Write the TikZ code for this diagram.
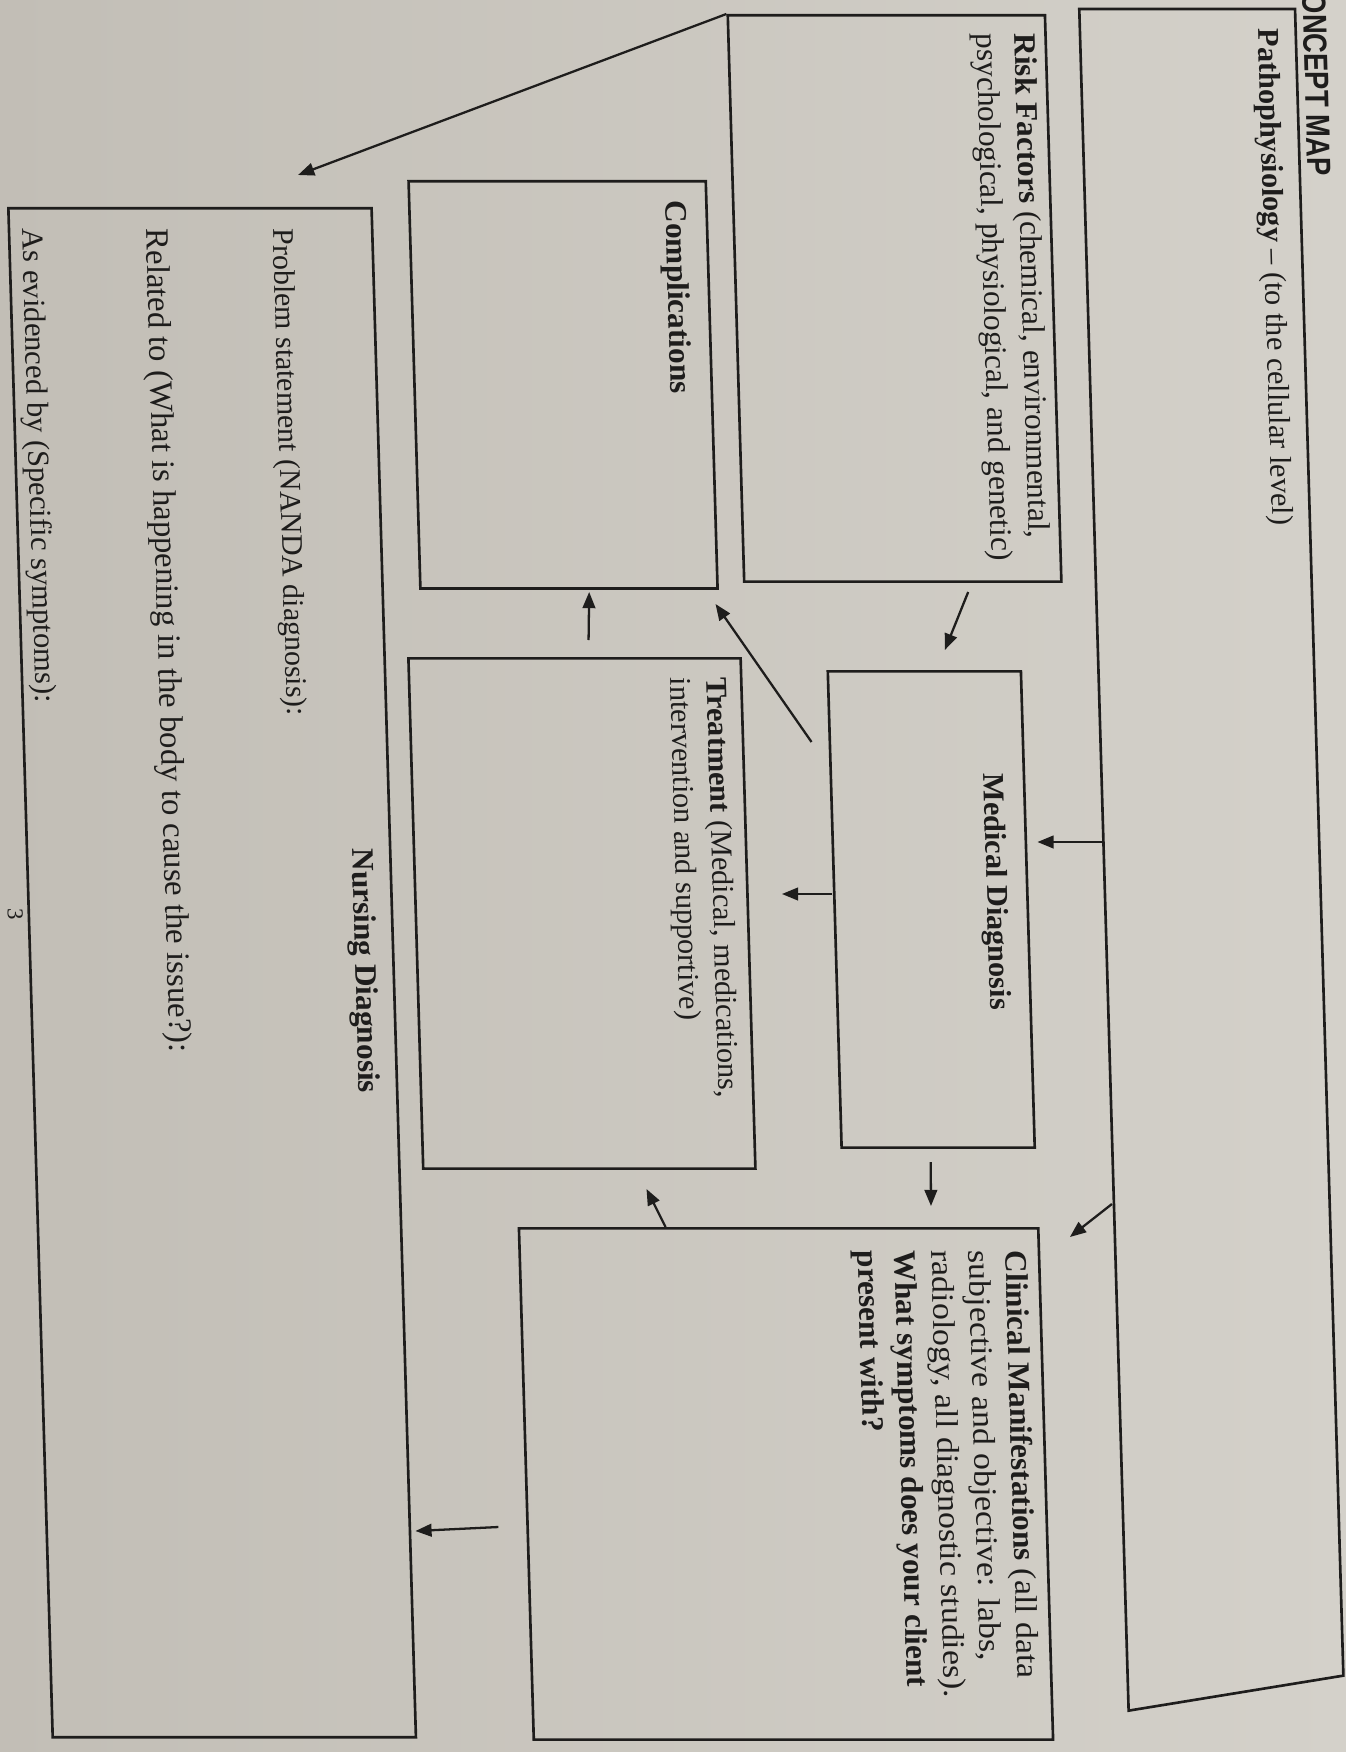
\documentclass[tikz,border=0pt]{standalone}
\usepackage{fontspec}
\setmainfont{Liberation Serif}
\newfontfamily\headfont{Liberation Sans}
\newfontfamily\wideserif[FakeStretch=1.08]{Liberation Serif}
\usetikzlibrary{arrows.meta}
\definecolor{paperL}{RGB}{194,190,182}
\definecolor{paperR}{RGB}{212,209,202}
\definecolor{ink}{RGB}{30,29,28}
\tikzset{
  box/.style={draw=ink, line width=0.75pt, rectangle, inner sep=0pt, anchor=north west},
  lbl/.style={rotate=-90, anchor=north west, inner sep=0pt, align=left, text=ink},
  link/.style={draw=ink, line width=0.65pt, -{Triangle[length=4.6pt,width=3.6pt]}},
}
\newcommand{\fs}[2]{\fontsize{#1}{#2}\selectfont}
\begin{document}
\begin{tikzpicture}[x=0.01cm, y=-0.01cm]
  \useasboundingbox (0,0) rectangle (1346,1752);
  \shade[left color=paperL, right color=paperR] (0,0) rectangle (1346,1752);
  \clip (0,0) rectangle (1346,1752);
  % the photographed sheet leans a little
  \begin{scope}[xslant=-0.029, every node/.append style={transform shape}]
    % boxes
    \node[box, draw=none, minimum width=2.13cm, minimum height=16.98cm] (patho) at (1079,9) {};
    \draw[ink, line width=0.75pt] (patho.north west) -- (patho.north east)
      -- ([yshift=0.35cm]patho.south east) -- (patho.south west) -- cycle;
    \node[box, minimum width=3.17cm, minimum height=5.66cm] (risk) at (726,14) {};
    \node[box, minimum width=2.97cm, minimum height=4.07cm] (compl) at (402,180) {};
    \node[box, minimum width=3.63cm, minimum height=15.28cm] (nursing) at (1,207) {};
    \node[box, minimum width=1.93cm, minimum height=4.76cm] (medical) at (807,670) {};
    \node[box, minimum width=3.32cm, minimum height=5.10cm] (treat) at (388,657) {};
    \node[box, minimum width=5.19cm, minimum height=5.11cm] (clinical) at (482,1227) {};

    % labels
    \node[lbl, font=\headfont\bfseries\fs{9.5pt}{11pt}] (title) at (1327,-8) {\scalebox{0.82}[1]{ONCEPT MAP}};
    \node[lbl, font=\fs{8.6pt}{10pt}] (pathoTxt) at (1279,28) {\textbf{Pathophysiology} -- (to the cellular level)};
    \node[lbl, font=\fs{8.9pt}{10.8pt}] (riskTxt) at (1036,33) {\textbf{Risk Factors} (chemical, environmental,\\psychological, physiological, and genetic)};
    \node[lbl, font=\bfseries\fs{8.9pt}{10pt}] (complTxt) at (682,200) {Complications};
    \node[lbl, font=\bfseries\fs{8.6pt}{10pt}] (medicalTxt) at (983,773) {Medical Diagnosis};
    \node[lbl, font=\fs{8.6pt}{10.4pt}] (treatTxt) at (709,677) {\textbf{Treatment} (Medical, medications,\\intervention and supportive)};
    \node[lbl, font=\fs{8.9pt}{10.5pt}] (clinicalTxt) at (992,1250) {\textbf{Clinical Manifestations} {\wideserif(all data}\\
      {\wideserif subjective and objective: labs,}\\{\wideserif radiology, all diagnostic studies).}\\
      \textbf{What symptoms does your client}\\\textbf{present with?}};
    \node[lbl, font=\bfseries\fs{8.9pt}{10pt}] (nursingTxt) at (350,848) {Nursing Diagnosis};
    \node[lbl, font=\fs{8.5pt}{10pt}] (problem) at (288,228) {Problem statement (NANDA diagnosis):};
    \node[lbl, font=\fs{9.3pt}{10pt}] (related) at (163,228) {Related to (What is happening in the body to cause the issue?):};
    \node[lbl, font=\fs{8.7pt}{10pt}] (evidence) at (38,228) {As evidenced by (Specific symptoms):};
    \node[lbl, font=\fs{6.5pt}{8pt}] (pageNo) at (-3,908) {3};

    % free arrow ends
    \coordinate (ndHead) at (293,175);
    \coordinate (pmTail) at (1079,842);  \coordinate (pmHead) at (1013,842);
    \coordinate (pcTail) at (1077,1204); \coordinate (pcHead) at (1034,1237);
    \coordinate (rmTail) at (951,592);   \coordinate (rmHead) at (926,650);
    \coordinate (mtTail) at (806,894);   \coordinate (mtHead) at (756,894);
    \coordinate (mcTail) at (897,1162);  \coordinate (mcHead) at (896,1206);
    \coordinate (tcTail) at (790,742);   \coordinate (tcHead) at (698,604);
    \coordinate (tkTail) at (570,640);   \coordinate (tkHead) at (572,592);
    \coordinate (ctTail) at (630,1227);  \coordinate (ctHead) at (612,1189);
    \coordinate (cnTail) at (454,1527);  \coordinate (cnHead) at (371,1531);

    % arrows
    \draw[link] (risk.north west) -- (ndHead);
    \draw[link] (pmTail) -- (pmHead);
    \draw[link] (pcTail) -- (pcHead);
    \draw[link] (rmTail) -- (rmHead);
    \draw[link] (mtTail) -- (mtHead);
    \draw[link] (mcTail) -- (mcHead);
    \draw[link] (tcTail) -- (tcHead);
    \draw[link] (tkTail) -- (tkHead);
    \draw[link] (ctTail) -- (ctHead);
    \draw[link] (cnTail) -- (cnHead);
  \end{scope}
\end{tikzpicture}
\end{document}
